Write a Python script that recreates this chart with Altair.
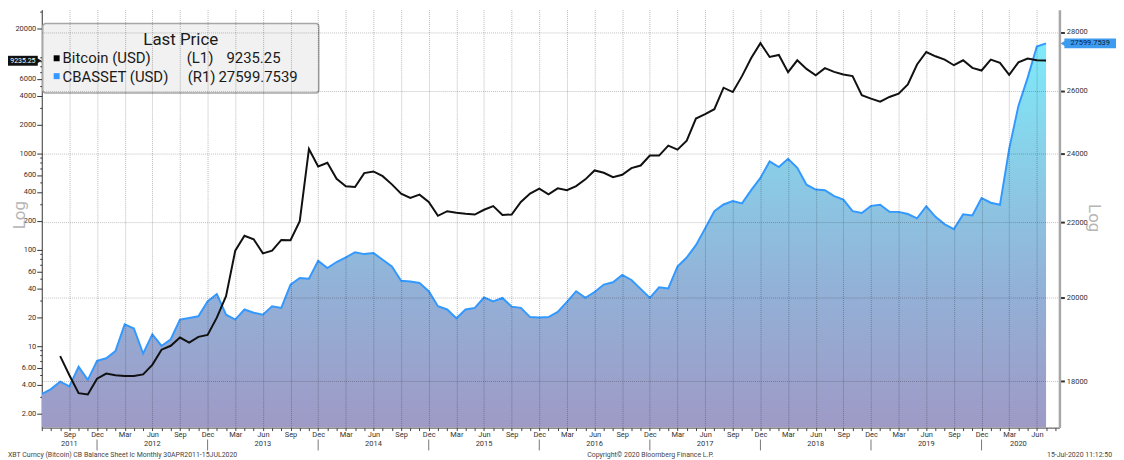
import json
import altair as alt
import pandas as pd

# ---------------- data ----------------
month_names = ["Jan", "Feb", "Mar", "Apr", "May", "Jun", "Jul", "Aug", "Sep", "Oct", "Nov", "Dec"]
months = [str(p) for p in pd.period_range("2011-06", "2020-07", freq="M")]  # monthly categories

btc_start = "2011-08"
btc_values = [
    7.9, 5.0, 3.25, 3.15, 4.6,                                               # 2011 Aug-Dec
    5.2, 5.0, 4.9, 4.9, 5.1, 6.4, 9.2, 10.1, 12.3, 10.9, 12.5, 13.1,         # 2012
    19.8, 33, 98, 140, 129, 92, 98, 127, 126, 199, 1118, 735,                # 2013
    802, 548, 457, 450, 627, 652, 583, 479, 384, 346, 375, 315,              # 2014
    226, 252, 243, 237, 233, 261, 285, 230, 233, 315, 384, 432,              # 2015
    378, 435, 416, 460, 540, 668, 632, 570, 603, 706, 752, 953,              # 2016
    953, 1209, 1099, 1361, 2311, 2566, 2889, 4830, 4355, 6370, 9840, 14030,  # 2017
    10070, 10570, 7000, 9310, 7570, 6490, 7710, 7060, 6630, 6370, 4030, 3720,  # 2018
    3460, 3870, 4190, 5230, 8410, 11350, 10240, 9460, 8270, 9310, 7760, 7290,  # 2019
    9460, 8740, 6580, 8870, 9700, 9310, 9235.25,                             # 2020 Jan-Jul
]

cb_values = [
    17710, 17820, 17990, 17880, 18330, 18030, 18470,                          # 2011 Jun-Dec
    18530, 18700, 19340, 19240, 18640, 19100, 18820, 18980, 19460, 19500, 19540, 19910,  # 2012
    20100, 19580, 19460, 19710, 19630, 19580, 19790, 19750, 20340, 20510, 20490, 20960,  # 2013
    20770, 20930, 21050, 21190, 21140, 21170, 20990, 20810, 20440, 20420, 20380, 20170,  # 2014
    19790, 19710, 19490, 19710, 19750, 20010, 19910, 20000, 19780, 19750, 19520, 19510,  # 2015
    19520, 19650, 19900, 20170, 20000, 20150, 20340, 20400, 20590, 20460, 20230, 20000,  # 2016
    20270, 20240, 20810, 21050, 21380, 21840, 22320, 22510, 22610, 22540, 22920, 23280,  # 2017
    23770, 23600, 23850, 23580, 23080, 22940, 22920, 22750, 22650, 22320, 22270, 22470,  # 2018
    22500, 22300, 22300, 22240, 22120, 22460, 22160, 21950, 21820, 22230, 22200, 22690,  # 2019
    22560, 22500, 24150, 25500, 26420, 27490, 27599.7539,                     # 2020 Jan-Jul
]

left_tick_labels = [2, 4, 6, 10, 20, 40, 60, 100, 200, 400, 600, 1000, 2000, 4000, 6000, 20000]
left_minor_ticks = [k * 10 ** d for d in range(0, 5) for k in range(1, 10)]
right_tick_labels = [18000, 20000, 22000, 24000, 26000, 28000]

year_labels = ["2011", "2012", "2013", "2014", "2015", "2016", "2017", "2018", "2019", "2020"]
year_label_months = ["2011-09", "2012-06", "2013-06", "2014-06", "2015-06", "2016-06",
                     "2017-06", "2018-06", "2019-06", "2020-04"]
year_sep_months = ["2011-12", "2012-12", "2013-12", "2014-12", "2015-12", "2016-12",
                   "2017-12", "2018-12", "2019-12"]

legend_title = "Last Price"
series_names = ["Bitcoin (USD)", "CBASSET (USD)"]
series_axes = ["(L1)", "(R1)"]
last_values = ["9235.25", "27599.7539"]
footer_left = "XBT Curncy (Bitcoin) CB Balance Sheet lc  Monthly 30APR2011-15JUL2020"
footer_mid = "Copyright\u00a9 2020 Bloomberg Finance L.P."
footer_right = "15-Jul-2020 11:12:50"

# ---------------- tables ----------------
b0 = months.index(btc_start)
df_cb = pd.DataFrame({"idx": list(range(len(cb_values))), "cb": cb_values})
df_btc = pd.DataFrame({"idx": [b0 + i for i in range(len(btc_values))], "btc": btc_values})
df_years = pd.DataFrame({"idx": [months.index(m) for m in year_label_months], "label": year_labels})
df_seps = pd.DataFrame({"idx": [months.index(m) for m in year_sep_months]})

W, H = 1025, 421
FONT = "Roboto"
CB_DOMAIN = [16973, 28803]
BTC_DOMAIN = [1.4276, 31240]
xscale = alt.Scale(domain=[0, 110.45], nice=False, zero=False)

names_js = json.dumps(month_names).replace('"', "'")
x_axis = alt.Axis(
    values=list(range(0, len(months) + 1)),
    labelExpr=f"datum.value > 0 && (datum.value + 5) % 3 == 2 ? {names_js}[(datum.value + 5) % 12] : ''",
    title=None, tickSize=3, tickColor="#444", domainColor="#444", labelPadding=0,
    labelOverlap=False, labelFlush=False, labelFontSize=7.5, labelColor="#333",
    grid=True, gridColor="#000", gridDash=[1, 1],
    gridOpacity={"condition": {"test": "datum.value > 0 && (datum.value + 5) % 3 == 2", "value": 0.28},
                 "value": 0},
    zindex=1,
)

labeled_js = json.dumps(left_tick_labels)
left_axis = alt.Axis(
    orient="left", values=left_minor_ticks, title=None, grid=False,
    labelExpr=(f"indexof({labeled_js}, datum.value) >= 0 ? "
               "(datum.value < 10 ? format(datum.value, '.2f') : format(datum.value, 'd')) : ''"),
    tickSize={"condition": {"test": f"indexof({labeled_js}, datum.value) >= 0", "value": 5}, "value": 2},
    tickColor="#333", domainColor="#333", labelPadding=1, labelOverlap=False,
    labelFontSize=7.5, labelColor="#333",
)

right_axis = alt.Axis(
    orient="right", values=right_tick_labels, format="d", title=None,
    grid=True, gridColor="#000", gridOpacity=0.25, gridDash=[1, 1],
    domainColor="#a8a8a8", domainWidth=2.5, tickColor="#333", tickSize=5, tickWidth=2,
    labelPadding=2, labelFontSize=7.5, labelColor="#333", zindex=1,
)

gradient = alt.Gradient(
    gradient="linear",
    stops=[
        alt.GradientStop(color="#7eeafa", offset=0),
        alt.GradientStop(color="#89cfe8", offset=0.3),
        alt.GradientStop(color="#93b0d6", offset=0.65),
        alt.GradientStop(color="#9e9ac6", offset=1),
    ],
    x1=0, x2=0, y1=0, y2=1,
)

X = alt.X("idx:Q", scale=xscale, axis=x_axis)

area = alt.Chart(df_cb).mark_area(fill=gradient, clip=True).encode(
    x=X,
    y=alt.Y("cb:Q", scale=alt.Scale(type="log", domain=CB_DOMAIN, nice=False), axis=right_axis),
    y2=alt.datum(CB_DOMAIN[0]),
)

cb_line = alt.Chart(df_cb).mark_line(color="#3399ff", strokeWidth=2, clip=True).encode(
    x=X,
    y=alt.Y("cb:Q", scale=alt.Scale(type="log", domain=CB_DOMAIN, nice=False), axis=None),
)

btc_line = alt.Chart(df_btc).mark_line(color="#111111", strokeWidth=2, clip=True).encode(
    x=X,
    y=alt.Y("btc:Q", scale=alt.Scale(type="log", domain=BTC_DOMAIN, nice=False), axis=left_axis),
)

years = alt.Chart(df_years).mark_text(fontSize=7.5, color="#333", font=FONT, baseline="middle").encode(
    x=X, y=alt.value(H + 17), text="label:N"
)
seps = alt.Chart(df_seps).mark_rule(color="#777", strokeWidth=1).encode(
    x=X, y=alt.value(H + 12), y2=alt.value(H + 23)
)


def txt(text, x, y, **kw):
    return alt.Chart(pd.DataFrame({"t": [text]})).mark_text(font=FONT, **kw).encode(
        x=alt.value(x), y=alt.value(y), text="t:N"
    )


def box(x1, x2, y1, y2, **kw):
    return alt.Chart(pd.DataFrame({"a": [0]})).mark_rect(**kw).encode(
        x=alt.value(x1), x2=alt.value(x2), y=alt.value(y1), y2=alt.value(y2)
    )


def tri(x, y, shape, color):
    return alt.Chart(pd.DataFrame({"a": [0]})).mark_point(
        shape=shape, filled=True, size=45, color=color, opacity=1
    ).encode(x=alt.value(x), y=alt.value(y))


legend = [
    box(1, 279, 14, 84, fill="#f1f1f1", stroke="#a6a6a6", strokeWidth=1.5, cornerRadius=3),
    txt(legend_title, 140, 31, fontSize=17, color="#1a1a1a", baseline="middle", align="center"),
    box(12, 18, 46, 52, fill="#000000"),
    box(12, 18, 64, 70, fill="#3399ff"),
    txt(series_names[0], 21, 49, fontSize=15, color="#1a1a1a", baseline="middle", align="left"),
    txt(series_names[1], 21, 68, fontSize=15, color="#1a1a1a", baseline="middle", align="left"),
    txt(series_axes[0], 146, 49, fontSize=15, color="#1a1a1a", baseline="middle", align="left"),
    txt(series_axes[1], 147, 68, fontSize=15, color="#1a1a1a", baseline="middle", align="left"),
    txt(last_values[0], 186, 49, fontSize=15, color="#1a1a1a", baseline="middle", align="left"),
    txt(last_values[1], 178, 68, fontSize=15, color="#1a1a1a", baseline="middle", align="left"),
]

tags = [
    box(-34, -4, 46.5, 56.5, fill="#111111"),
    tri(-3, 51.5, "triangle-right", "#111111"),
    txt(last_values[0], -19, 51.5, fontSize=7, color="#ffffff", baseline="middle", align="center"),
    box(1030, 1083, 29, 39, fill="#3d9cf0"),
    tri(1029, 34, "triangle-left", "#3d9cf0"),
    txt(last_values[1], 1056, 34, fontSize=7.5, color="#0b2240", baseline="middle", align="center"),
]

titles = [
    txt("Log", -22, 207, fontSize=17, color="#b5b5b5", angle=270, baseline="middle", align="center"),
    txt("Log", 1060, 210, fontSize=17, color="#b5b5b5", angle=90, baseline="middle", align="center"),
]

footer = [
    txt(footer_left, -34, 449, fontSize=7, color="#444", baseline="middle", align="left"),
    txt(footer_mid, 613, 449, fontSize=7, color="#444", baseline="middle", align="center"),
    txt(footer_right, 1078, 449, fontSize=7, color="#444", baseline="middle", align="right"),
]

chart = alt.layer(
    area, cb_line, btc_line, years, seps, *titles, *legend, *tags, *footer
).resolve_scale(
    y="independent"
).properties(
    width=W, height=H,
    padding={"left": 34, "top": 0, "right": 57, "bottom": 35},
    autosize=alt.AutoSizeParams(type="none"),
    background="#ffffff",
).configure_view(
    stroke=None
).configure_axis(
    labelFont=FONT
)

chart.save("out.html", embed_options={"renderer": "svg", "actions": False})
